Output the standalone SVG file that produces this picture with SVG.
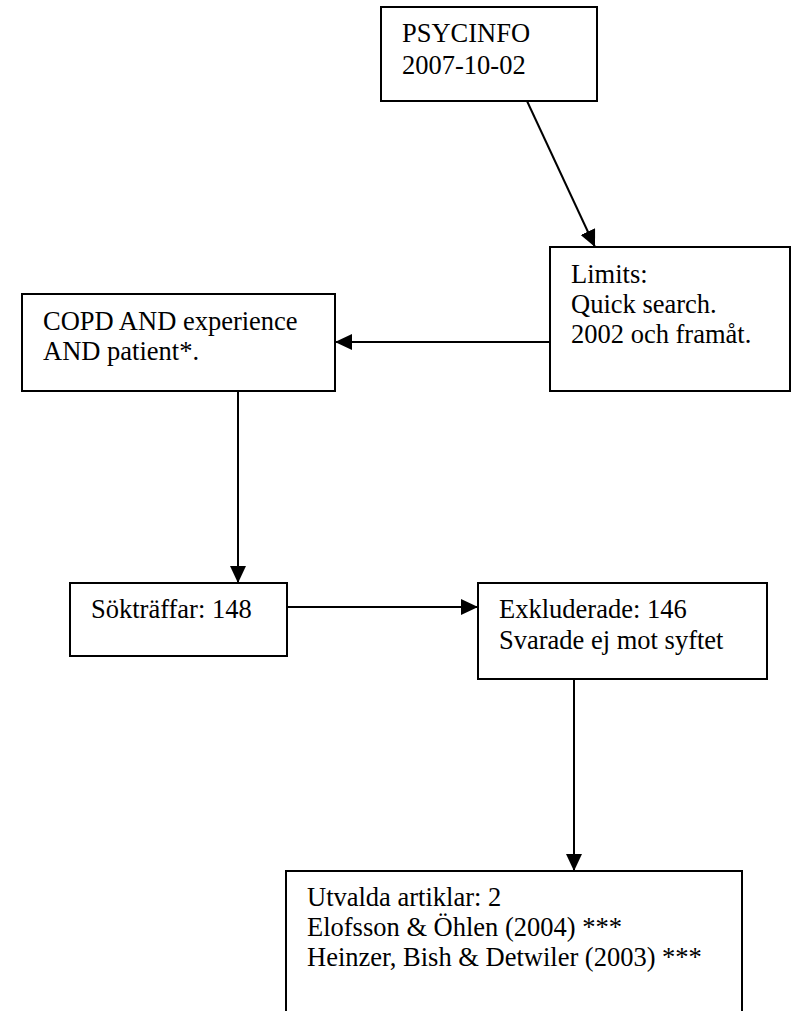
<svg xmlns="http://www.w3.org/2000/svg" width="796" height="1011" viewBox="0 0 796 1011">
  <style>
    .box { fill: #ffffff; stroke: #000000; stroke-width: 2; }
    .lbl { font-family: "Liberation Serif", "Times New Roman", serif; font-size: 26.5px; fill: #000000; }
    .edge { fill: none; stroke: #000000; stroke-width: 2; marker-end: url(#arrow); }
  </style>
  <defs>
    <marker id="arrow" markerUnits="userSpaceOnUse" markerWidth="18" markerHeight="16" refX="17" refY="8" orient="auto">
      <path d="M0,0 L17,8 L0,16 Z" fill="#000000"/>
    </marker>
  </defs>

  <!-- connectors -->
  <g id="connectors">
    <line class="edge" x1="527" y1="101" x2="595" y2="247"/>
    <line class="edge" x1="550" y1="342" x2="335" y2="342"/>
    <line class="edge" x1="238" y1="391" x2="238" y2="583"/>
    <line class="edge" x1="287" y1="607" x2="478" y2="607"/>
    <line class="edge" x1="574" y1="679" x2="574" y2="871"/>
  </g>

  <g id="psycinfo">
    <rect class="box" x="381" y="7" width="216" height="94"/>
    <text class="lbl" x="402" y="42">PSYCINFO</text>
    <text class="lbl" x="402" y="74">2007-10-02</text>
  </g>

  <g id="limits">
    <rect class="box" x="550" y="247" width="240" height="144"/>
    <text class="lbl" x="571" y="283">Limits:</text>
    <text class="lbl" x="571" y="313">Quick search.</text>
    <text class="lbl" x="571" y="343">2002 och framåt.</text>
  </g>

  <g id="query">
    <rect class="box" x="22" y="294" width="313" height="97"/>
    <text class="lbl" x="43" y="330">COPD AND experience</text>
    <text class="lbl" x="43" y="360">AND patient*.</text>
  </g>

  <g id="hits">
    <rect class="box" x="70" y="583" width="217" height="73"/>
    <text class="lbl" x="91" y="618">Sökträffar: 148</text>
  </g>

  <g id="excluded">
    <rect class="box" x="478" y="583" width="289" height="96"/>
    <text class="lbl" x="499" y="618">Exkluderade: 146</text>
    <text class="lbl" x="499" y="649">Svarade ej mot syftet</text>
  </g>

  <g id="selected">
    <rect class="box" x="286" y="871" width="456" height="160"/>
    <text class="lbl" x="307" y="906">Utvalda artiklar: 2</text>
    <text class="lbl" x="307" y="936">Elofsson &amp; Öhlen (2004) ***</text>
    <text class="lbl" x="307" y="966">Heinzer, Bish &amp; Detwiler (2003) ***</text>
  </g>
</svg>
